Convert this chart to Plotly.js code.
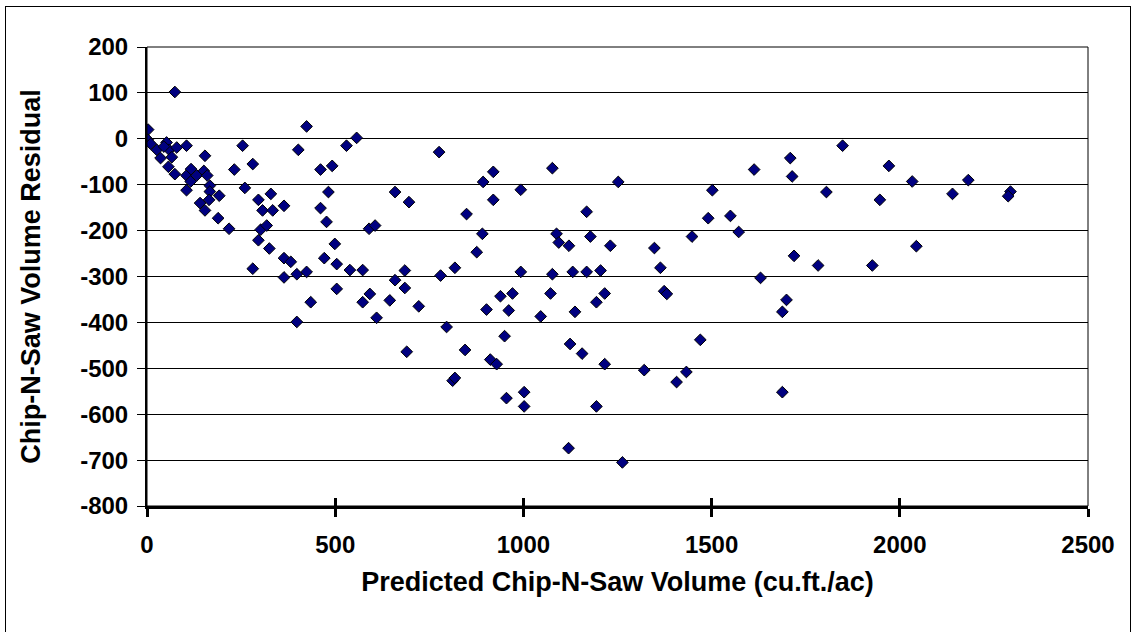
<!DOCTYPE html>
<html>
<head>
<meta charset="utf-8">
<script src="https://cdn.plot.ly/plotly-3.0.1.min.js"></script>
<style>
  html, body { margin: 0; padding: 0; background: #fff; }
  #wrap { position: relative; width: 1131px; height: 632px; overflow: hidden; }
  #chart { position: absolute; left: 0; top: 0; width: 1131px; height: 632px; }
  #frame { position: absolute; left: 5px; top: 6px; width: 1124px; height: 640px; border: 1px solid #000; pointer-events: none; }
</style>
</head>
<body>
<div id="wrap"><div id="chart"></div><div id="frame"></div></div>
<script>
// Predicted Chip-N-Saw volume (cu.ft./ac)
const predicted = [
  3, 74, 2, 10, 26, 36, 52, 59, 66, 79, 45, 57, 74, 105, 154, 105, 117, 116, 132, 151,
  160, 105, 167, 167, 141, 165, 154, 192, 189, 218, 232, 254, 260, 281, 296, 307, 329, 334, 364, 302,
  318, 296, 325, 281, 364, 382, 364, 398, 424, 402, 424, 461, 492, 482, 461, 477, 530, 557, 499, 471,
  504, 539, 573, 590, 606, 504, 435, 398, 592, 573, 610, 645,
  776, 659, 696, 893, 920, 920, 849, 993, 1077, 1252, 1168, 891, 876, 1088, 1094, 1121, 1178, 1231,
  685, 659, 685, 722, 780, 818, 796, 690, 845, 912, 929, 993, 1077, 1131, 1168, 1205, 902, 939, 971, 961,
  1046, 1072, 1137, 1194, 1216, 950, 1124, 1156, 1216, 812, 818, 955, 1002, 1002, 1194, 1120, 1263,
  1848, 1709, 1714, 1613, 1502, 1805, 1947, 1491, 1550, 1572, 1448, 1348, 1364, 1374, 1381, 1719, 1783, 1927,
  1630, 1699, 1688, 1470, 1321, 1433, 1407, 1688, 1971, 2033, 2140, 2182, 2294, 2288, 2044
];
// Chip-N-Saw volume residual
const residual = [
  20, 102, -2, -11, -24, -42, -8, -24, -40, -19, -17, -61, -77, -15, -37, -80, -66, -93, -80, -70,
  -80, -112, -102, -115, -140, -133, -156, -124, -173, -196, -67, -15, -107, -55, -133, -156, -120, -156, -146, -198,
  -189, -221, -239, -283, -260, -268, -302, -295, -290, -24, 27, -67, -59, -116, -151, -181, -15, 2, -229, -260,
  -273, -286, -286, -196, -189, -327, -356, -399, -338, -356, -390, -352,
  -29, -116, -138, -94, -72, -133, -164, -111, -64, -94, -159, -207, -247, -207, -226, -233, -213, -233,
  -287, -308, -325, -365, -298, -281, -410, -464, -460, -481, -491, -290, -295, -290, -290, -287, -372, -343, -337, -374,
  -387, -337, -377, -356, -337, -430, -447, -468, -491, -527, -521, -565, -552, -583, -583, -674, -705,
  -15, -42, -82, -67, -112, -116, -133, -173, -168, -203, -213, -238, -281, -332, -338, -255, -276, -276,
  -303, -351, -377, -438, -504, -508, -530, -552, -59, -93, -120, -90, -115, -125, -234
];
const xTicks = [0, 500, 1000, 1500, 2000, 2500];
const yTicks = [-800, -700, -600, -500, -400, -300, -200, -100, 0, 100, 200];

const FONT = { family: '"Liberation Sans", Arial, sans-serif', size: 24, color: '#000', weight: 'bold' };
const TITLE_FONT = { family: '"Liberation Sans", Arial, sans-serif', size: 27, color: '#000', weight: 'bold' };

const traces = [
  {
    type: 'scatter', mode: 'markers', x: predicted, y: residual,
    marker: { symbol: 'diamond', size: 9, color: '#000080', line: { color: '#000', width: 1 } },
    showlegend: false, hoverinfo: 'x+y'
  },
  { type: 'scatter', mode: 'markers', x: [], y: [], xaxis: 'x2', yaxis: 'y', showlegend: false, hoverinfo: 'skip' }
];

const layout = {
  width: 1131, height: 632,
  margin: { l: 147, r: 43, t: 47, b: 126, pad: 0 },
  paper_bgcolor: '#fff', plot_bgcolor: '#fff',
  font: FONT,
  showlegend: false,
  xaxis: {
    range: [0, 2500], tickvals: xTicks, ticktext: xTicks.map(String),
    showgrid: false, zeroline: false,
    showline: true, linecolor: '#000', linewidth: 3,
    ticks: 'outside', ticklen: 8, tickwidth: 3, tickcolor: '#000',
    tickfont: FONT, ticklabelstandoff: 7,
    title: { text: 'Predicted Chip-N-Saw Volume (cu.ft./ac)', font: TITLE_FONT, standoff: 16 },
    fixedrange: true
  },
  xaxis2: {
    overlaying: 'x', side: 'bottom', range: [0, 2500], tickvals: xTicks,
    showticklabels: false, showgrid: false, zeroline: false, showline: false,
    ticks: 'inside', ticklen: 8, tickwidth: 3, tickcolor: '#000', fixedrange: true
  },
  yaxis: {
    range: [-800, 200], tickvals: yTicks, ticktext: yTicks.map(String),
    showgrid: true, gridcolor: '#000', gridwidth: 1, zeroline: false,
    showline: true, linecolor: '#000', linewidth: 2,
    ticks: 'outside', ticklen: 8, tickwidth: 1, tickcolor: '#000',
    tickfont: FONT, ticklabelstandoff: 4,
    title: { text: 'Chip-N-Saw Volume Residual', font: TITLE_FONT, standoff: 32 },
    fixedrange: true
  },
  shapes: [
    { type: 'rect', xref: 'paper', yref: 'paper', x0: 0, x1: 1, y0: 0, y1: 1,
      line: { color: '#000', width: 1 }, layer: 'above' }
  ]
};

Plotly.newPlot('chart', traces, layout, { displayModeBar: false, staticPlot: true });
</script>
</body>
</html>
